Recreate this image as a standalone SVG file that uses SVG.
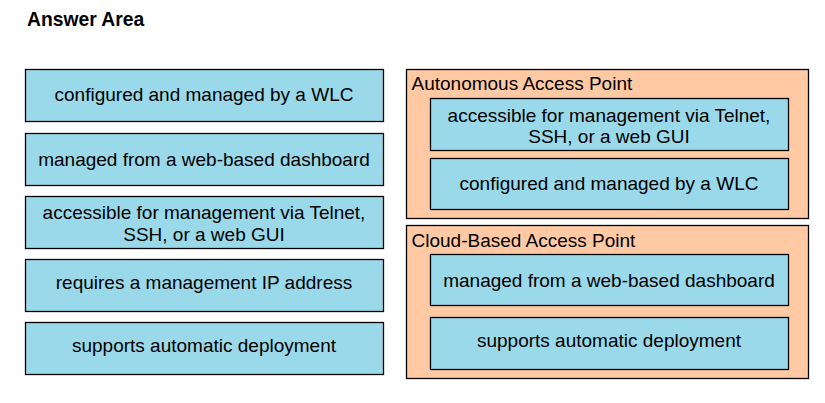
<svg xmlns="http://www.w3.org/2000/svg" width="825" height="403" viewBox="0 0 825 403">
<style>
.bg{fill:#ffffff}
.item{fill:#99D9EA;stroke:#000;stroke-width:1.3}
.zone{fill:#FEC9A3;stroke:#000;stroke-width:1.3}
text{font-family:"Liberation Sans",Arial,sans-serif;font-size:19px;fill:#000}
.c{text-anchor:middle}
.title{font-weight:bold;font-size:19.3px}
</style>
<rect class="bg" x="0" y="0" width="825" height="403"/>
<text class="title" x="27" y="26">Answer Area</text>
<g id="connectors"></g>
<g id="opt1"><rect class="item" x="25.5" y="69.5" width="358" height="52"/><text class="c" x="204" y="101">configured and managed by a WLC</text></g>
<g id="opt2"><rect class="item" x="25.5" y="133.5" width="358" height="52"/><text class="c" x="204" y="165.5">managed from a web-based dashboard</text></g>
<g id="opt3"><rect class="item" x="25.5" y="196.5" width="358" height="52"/><text class="c" x="204" y="218.5">accessible for management via Telnet,</text><text class="c" x="204" y="240.5">SSH, or a web GUI</text></g>
<g id="opt4"><rect class="item" x="25.5" y="259.5" width="358" height="52"/><text class="c" x="204" y="289">requires a management IP address</text></g>
<g id="opt5"><rect class="item" x="25.5" y="322.5" width="358" height="52"/><text class="c" x="204" y="351.5">supports automatic deployment</text></g>
<g id="autonomous"><rect class="zone" x="406.5" y="69.5" width="402" height="149"/><text x="411.5" y="89.5">Autonomous Access Point</text>
<g id="aut1"><rect class="item" x="430.5" y="98.5" width="358" height="52"/><text class="c" x="609" y="121.5">accessible for management via Telnet,</text><text class="c" x="609" y="142.5">SSH, or a web GUI</text></g>
<g id="aut2"><rect class="item" x="430.5" y="158.5" width="358" height="51"/><text class="c" x="609" y="189.5">configured and managed by a WLC</text></g>
</g>
<g id="cloud"><rect class="zone" x="406.5" y="225.5" width="402" height="153"/><text x="411.5" y="246.5">Cloud-Based Access Point</text>
<g id="cld1"><rect class="item" x="430.5" y="254.5" width="358" height="51"/><text class="c" x="609" y="286.5">managed from a web-based dashboard</text></g>
<g id="cld2"><rect class="item" x="430.5" y="317.5" width="358" height="52"/><text class="c" x="609" y="346.5">supports automatic deployment</text></g>
</g>
</svg>
